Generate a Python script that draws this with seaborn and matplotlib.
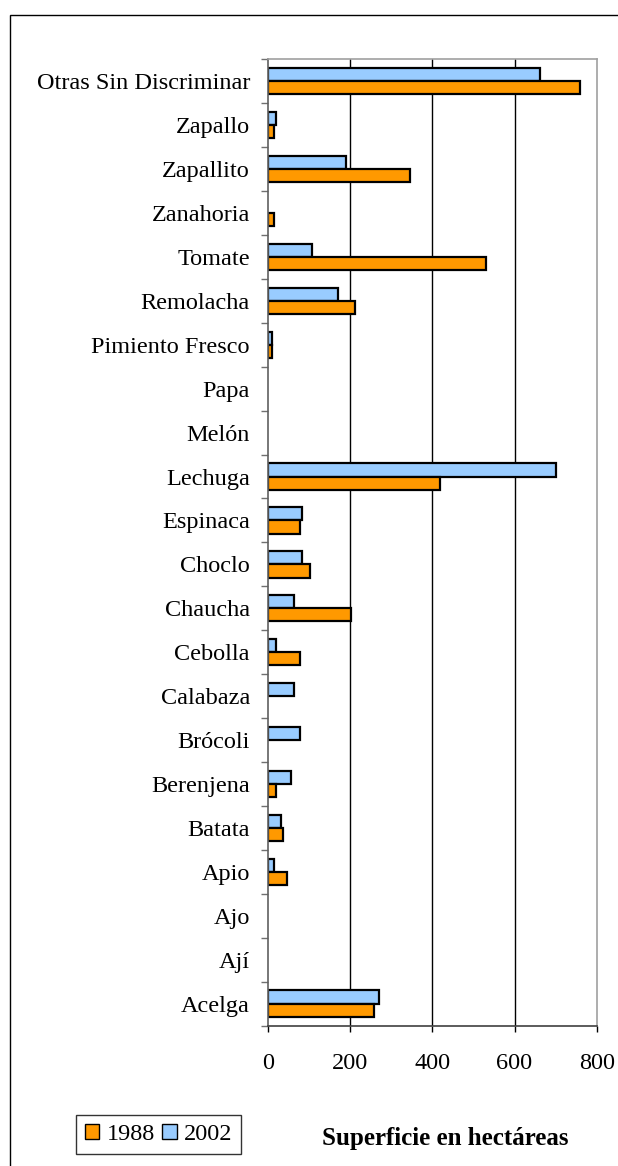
import matplotlib
matplotlib.use("Agg")
import matplotlib.pyplot as plt
import seaborn as sns
import pandas as pd
import numpy as np
from matplotlib.patches import Patch, Rectangle

categories = ["Otras Sin Discriminar", "Zapallo", "Zapallito", "Zanahoria", "Tomate",
              "Remolacha", "Pimiento Fresco", "Papa", "Melón", "Lechuga", "Espinaca",
              "Choclo", "Chaucha", "Cebolla", "Calabaza", "Brócoli", "Berenjena",
              "Batata", "Apio", "Ajo", "Ají", "Acelga"]
v1988 = [759, 14, 346, 14, 530, 212, 9, 0, 0, 419, 77, 102, 203, 77, 0, 0, 19, 37, 46, 0, 0, 258]
v2002 = [663, 19, 189, 0, 107, 170, 9, 0, 0, 701, 82, 82, 64, 19, 64, 78, 56, 32, 14, 0, 0, 271]
years = ["1988", "2002"]
xticks = [0, 200, 400, 600, 800]
xlabel = "Superficie en hectáreas"

sns.set_theme(style="white")
plt.rcParams['font.family'] = ['Liberation Serif', 'DejaVu Serif']
plt.rcParams['text.color'] = 'black'

df = pd.DataFrame({
    "cat": categories * 2,
    "year": ["1988"] * len(categories) + ["2002"] * len(categories),
    "val": v1988 + v2002,
})

colors = {"1988": "#FF9900", "2002": "#99CCFF"}
FS = 17.5

fig = plt.figure(figsize=(6.18, 11.66), dpi=100)
ax = fig.add_axes([268 / 618, 1 - 1025.5 / 1166, (596.7 - 268) / 618, (1025.5 - 59.3) / 1166])

sns.barplot(data=df, y="cat", x="val", hue="year", order=categories,
            hue_order=["2002", "1988"], palette=colors, orient="h",
            width=0.6, gap=0, edgecolor="black", linewidth=1.6, legend=False, ax=ax,
            saturation=1)

for p in ax.patches:
    if p.get_width() == 0:
        p.set_visible(False)

ax.set_xlim(0, 800)
ax.set_ylim(len(categories) - 0.5, -0.5)
ax.set_xticks(xticks)
ax.set_xticklabels([str(t) for t in xticks], fontsize=FS)
ax.set_xlabel("")
ax.set_ylabel("")
ax.tick_params(axis="y", which="major", length=0, pad=13, labelsize=FS, labelcolor="black")
ax.tick_params(axis="x", which="major", length=4, width=1, color="black", direction="out",
               pad=16, labelsize=FS, labelcolor="black", bottom=True)
ax.set_yticks(np.arange(-0.5, len(categories) + 0.5, 1), minor=True)
ax.tick_params(axis="y", which="minor", length=5, width=1, color="#707070", direction="out", left=True)

for x in xticks[1:-1]:
    ax.axvline(x, color="black", lw=1, zorder=0)

for s in ["top", "right"]:
    ax.spines[s].set_visible(True)
    ax.spines[s].set_color("#A0A0A0")
    ax.spines[s].set_linewidth(1.2)
ax.spines["left"].set_color("#606060")
ax.spines["left"].set_linewidth(1.2)
ax.spines["bottom"].set_color("#404040")
ax.spines["bottom"].set_linewidth(1.2)

handles = [Patch(facecolor=colors[y], edgecolor="black", linewidth=1) for y in years]
leg = fig.legend(handles, years, loc="center", bbox_to_anchor=((75 + 242) / 2 / 618, 1 - 1134.5 / 1166),
                 ncol=2, fontsize=FS, frameon=True, fancybox=False, handlelength=0.6, handleheight=0.6,
                 handletextpad=0.3, columnspacing=0.3, borderpad=0.35, borderaxespad=0,
                 labelcolor="black")
leg.get_frame().set_edgecolor("black")
leg.get_frame().set_linewidth(1)

fig.text(445 / 618, 1 - 1138 / 1166, xlabel, fontsize=FS + 0.5, fontweight="bold",
         ha="center", va="center", color="black")

fig.patches.append(Rectangle((10 / 618, -0.1), 1.2, 1.1 - 15 / 1166, transform=fig.transFigure,
                             fill=False, edgecolor="black", linewidth=1))

fig.savefig("out.png", dpi=100)
